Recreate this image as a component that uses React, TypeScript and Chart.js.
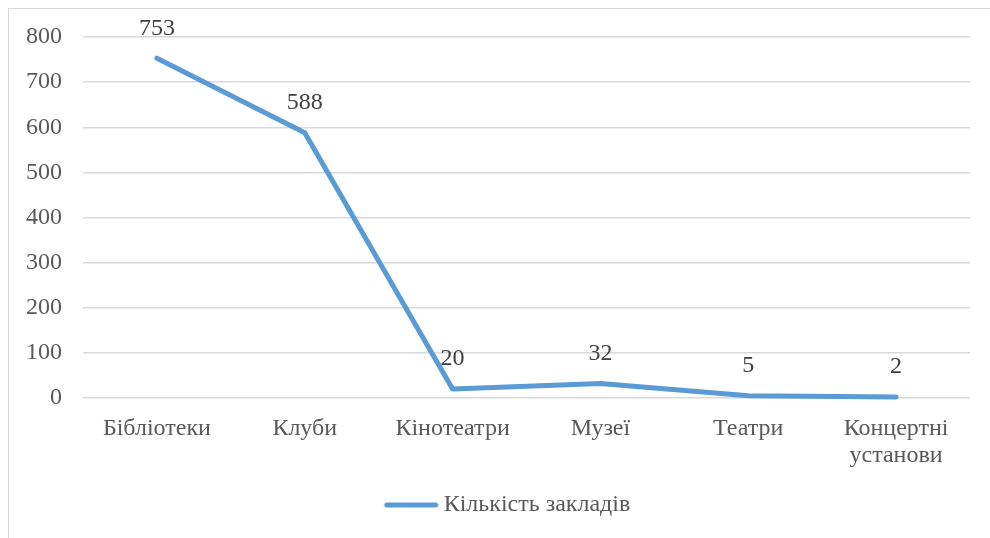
import React, { useEffect, useRef } from "react";
import { Chart, registerables } from "chart.js";

Chart.register(...registerables);

const categories = ["Бібліотеки", "Клуби", "Кінотеатри", "Музеї", "Театри", "Концертні установи"];
const seriesName = "Кількість закладів";
const values = [753, 588, 20, 32, 5, 2];
const yTicks = [0, 100, 200, 300, 400, 500, 600, 700, 800];

const FONT_FAMILY = "Liberation Serif";
const FONT_SIZE = 24;
const LINE_COLOR = "#5B9BD5";
const TEXT_COLOR = "#595959";
const GRID_COLOR = "#d9d9d9";

const dataLabelPlugin = {
  id: "dataLabels",
  afterDatasetsDraw(chart: any) {
    const ctx = chart.ctx;
    const meta = chart.getDatasetMeta(0);
    ctx.save();
    ctx.font = `${FONT_SIZE}px "${FONT_FAMILY}"`;
    ctx.fillStyle = "#404040";
    ctx.textAlign = "center";
    ctx.textBaseline = "middle";
    meta.data.forEach((el: any, i: number) => {
      ctx.fillText(String(values[i]), el.x, el.y - 30);
    });
    ctx.restore();
  },
};

const legendShiftPlugin = {
  id: "legendShift",
  afterLayout(chart: any) {
    if (chart.legend) {
      chart.legend.left += 14;
      chart.legend.right += 14;
    }
  },
};

function makeLegendMarker(): HTMLCanvasElement {
  const c = document.createElement("canvas");
  c.width = 69;
  c.height = 8;
  const g = c.getContext("2d");
  if (g) {
    g.strokeStyle = LINE_COLOR;
    g.lineWidth = 5;
    g.lineCap = "round";
    g.beginPath();
    g.moveTo(17, 4);
    g.lineTo(66, 4);
    g.stroke();
  }
  return c;
}

export default function App() {
  const canvasRef = useRef<HTMLCanvasElement | null>(null);

  useEffect(() => {
    if (!canvasRef.current) return;
    const marker = makeLegendMarker();
    const chart = new Chart(canvasRef.current, {
      type: "line",
      data: {
        labels: categories,
        datasets: [
          {
            label: seriesName,
            data: values,
            borderColor: LINE_COLOR,
            backgroundColor: LINE_COLOR,
            borderWidth: 5,
            borderCapStyle: "round",
            borderJoinStyle: "round",
            pointRadius: 0,
            pointHoverRadius: 0,
            tension: 0,
            fill: false,
            clip: false as any,
          },
        ],
      },
      options: {
        animation: false,
        responsive: true,
        maintainAspectRatio: false,
        layout: { padding: { top: 28, right: 20, left: 0, bottom: 11 } },
        plugins: {
          tooltip: { enabled: false },
          legend: {
            position: "bottom",
            labels: {
              color: TEXT_COLOR,
              font: { family: FONT_FAMILY, size: FONT_SIZE },
              usePointStyle: true,
              pointStyleWidth: 55,
              boxHeight: 8,
              padding: 10,
              generateLabels: () => [
                {
                  text: seriesName,
                  fillStyle: LINE_COLOR,
                  strokeStyle: LINE_COLOR,
                  lineWidth: 0,
                  pointStyle: marker,
                  hidden: false,
                  datasetIndex: 0,
                  fontColor: TEXT_COLOR,
                } as any,
              ],
            },
          },
        },
        scales: {
          x: {
            offset: true,
            grid: { display: false, drawTicks: false },
            border: { display: false },
            ticks: {
              color: TEXT_COLOR,
              font: { family: FONT_FAMILY, size: FONT_SIZE, lineHeight: 1.12 },
              padding: 17,
              maxRotation: 0,
              autoSkip: false,
              callback: function (this: any, _v: any, i: number) {
                const l = categories[i];
                return l.includes(" ") ? l.split(" ") : l;
              },
            },
            afterFit: (scale: any) => {
              scale.height = 85;
            },
          },
          y: {
            min: 0,
            max: 800,
            afterBuildTicks: (scale: any) => {
              scale.ticks = yTicks.map((v) => ({ value: v }));
            },
            grid: {
              color: GRID_COLOR,
              lineWidth: 1.5,
              drawTicks: true,
              tickLength: 19,
              tickColor: "rgba(0,0,0,0)",
            },
            border: { display: false },
            ticks: {
              color: TEXT_COLOR,
              font: { family: FONT_FAMILY, size: FONT_SIZE },
              padding: 2,
            },
            afterFit: (scale: any) => {
              scale.width = 74;
            },
          },
        },
      },
      plugins: [dataLabelPlugin, legendShiftPlugin],
    });
    return () => chart.destroy();
  }, []);

  return (
    <div
      style={{
        position: "absolute",
        left: 8,
        top: 8,
        width: 982,
        height: 530,
        boxSizing: "border-box",
        borderLeft: "1px solid #d9d9d9",
        borderTop: "1px solid #d9d9d9",
        background: "#fff",
      }}
    >
      <canvas ref={canvasRef} />
    </div>
  );
}
